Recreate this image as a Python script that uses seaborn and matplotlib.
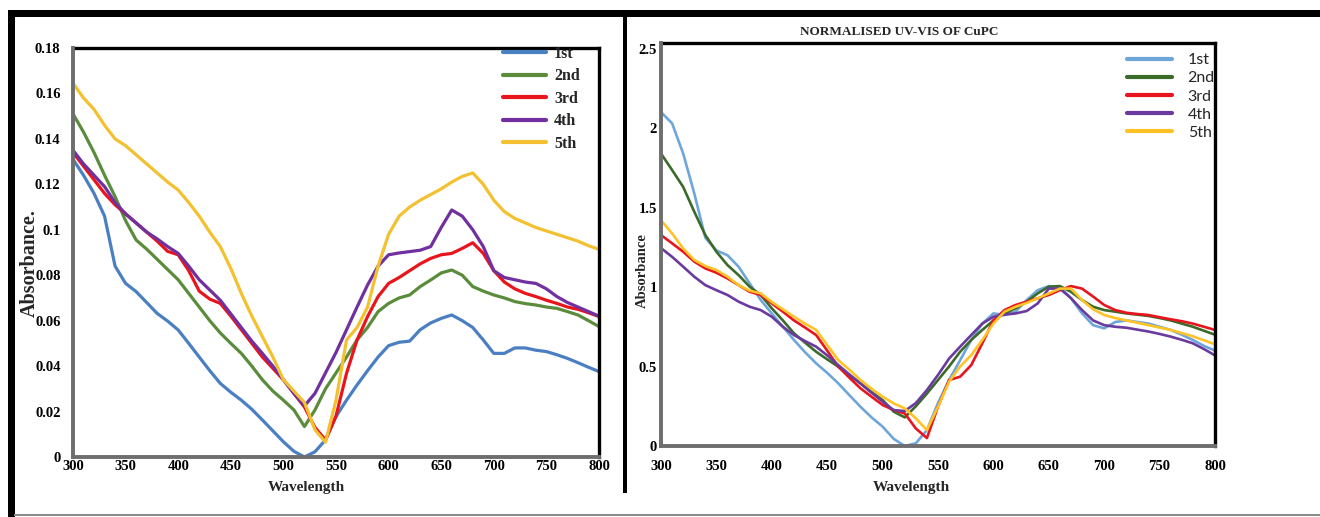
import matplotlib
matplotlib.use("Agg")
import matplotlib.pyplot as plt
import pandas as pd
import seaborn as sns
from matplotlib.patches import Rectangle

# ---------------- data ----------------
wavelength = list(range(300, 801, 10))
scans = ["1st", "2nd", "3rd", "4th", "5th"]

left_1st = [.131, .124, .116, .106, .084, .0764, .0728, .068, .0632, .0598,
            .0559, .050, .044, .038, .0324, .0285, .025, .021, .0163, .0115,
            .0067, .0025, .0, .0023, .0075, .0178, .025, .0317, .038, .044,
            .049, .0505, .051, .056, .059, .061, .0625, .060, .057, .0515,
            .0456, .0456, .048, .048, .047, .0464, .045, .0434, .0415, .0395,
            .0376]
left_2nd = [.151, .143, .134, .124, .1146, .104, .0955, .0915, .087, .0825,
            .078, .072, .066, .060, .0546, .050, .0456, .040, .034, .029,
            .025, .0207, .0134, .0207, .030, .037, .044, .0515, .057, .064,
            .0676, .070, .0713, .075, .0779, .081, .0823, .080, .075, .073,
            .0713, .070, .0684, .0675, .0669, .066, .0654, .064, .0625, .060,
            .0574]
left_3rd = [.134, .128, .122, .116, .111, .107, .103, .099, .095, .0905,
            .089, .082, .073, .0695, .0676, .062, .056, .050, .044, .039,
            .034, .028, .022, .013, .0075, .018, .0368, .0515, .0618, .0706,
            .0764, .079, .082, .085, .0874, .089, .0896, .0918, .0943, .0896,
            .082, .077, .074, .072, .0706, .069, .0676, .066, .065, .0635,
            .0618]
left_4th = [.135, .129, .124, .119, .112, .107, .103, .099, .096, .0926,
            .0896, .084, .078, .0735, .069, .063, .057, .051, .0456, .040,
            .034, .028, .0225, .028, .037, .046, .056, .066, .0757, .084,
            .089, .0898, .0904, .091, .0926, .101, .1087, .106, .100, .0926,
            .082, .079, .078, .077, .0764, .074, .0706, .068, .066, .064,
            .062]
left_5th = [.1645, .158, .153, .146, .140, .137, .133, .129, .125, .121,
            .1175, .112, .106, .099, .0926, .083, .072, .062, .053, .044,
            .034, .029, .024, .012, .0065, .025, .0515, .057, .066, .084,
            .098, .106, .110, .113, .1155, .118, .121, .1235, .125, .120,
            .113, .108, .105, .103, .101, .0995, .098, .0965, .095, .093,
            .0914]

right_1st = [2.10, 2.03, 1.84, 1.59, 1.31, 1.23, 1.20, 1.128, 1.023, 0.918,
             0.834, 0.75, 0.667, 0.59, 0.52, 0.46, 0.394, 0.32, 0.247, 0.18,
             0.122, 0.045, 0.0, 0.017, 0.10, 0.27, 0.415, 0.54, 0.667, 0.77,
             0.834, 0.824, 0.845, 0.918, 0.98, 1.006, 1.0, 0.93, 0.834, 0.76,
             0.74, 0.78, 0.79, 0.78, 0.77, 0.75, 0.73, 0.70, 0.667, 0.63,
             0.60]
right_2nd = [1.84, 1.736, 1.63, 1.474, 1.327, 1.222, 1.138, 1.075, 1.002, 0.95,
             0.866, 0.79, 0.709, 0.65, 0.593, 0.545, 0.499, 0.445, 0.394, 0.34,
             0.289, 0.216, 0.18, 0.25, 0.33, 0.415, 0.50, 0.593, 0.667, 0.73,
             0.79, 0.834, 0.866, 0.908, 0.96, 1.002, 1.006, 0.97, 0.918, 0.876,
             0.855, 0.845, 0.834, 0.826, 0.818, 0.805, 0.79, 0.77, 0.75, 0.725,
             0.70]
right_3rd = [1.327, 1.275, 1.222, 1.16, 1.117, 1.09, 1.054, 1.012, 0.97, 0.95,
             0.897, 0.845, 0.79, 0.745, 0.698, 0.60, 0.499, 0.43, 0.363, 0.31,
             0.258, 0.226, 0.205, 0.11, 0.05, 0.247, 0.415, 0.436, 0.509, 0.646,
             0.79, 0.855, 0.887, 0.908, 0.929, 0.95, 0.98, 1.006, 0.99, 0.94,
             0.887, 0.855, 0.838, 0.83, 0.824, 0.81, 0.797, 0.785, 0.77, 0.75,
             0.73]
right_4th = [1.245, 1.19, 1.128, 1.065, 1.012, 0.98, 0.95, 0.908, 0.876, 0.855,
             0.813, 0.75, 0.698, 0.66, 0.625, 0.57, 0.509, 0.45, 0.394, 0.335,
             0.279, 0.226, 0.22, 0.27, 0.352, 0.447, 0.55, 0.625, 0.698, 0.77,
             0.813, 0.826, 0.834, 0.849, 0.897, 0.99, 0.99, 0.93, 0.855, 0.79,
             0.76, 0.75, 0.744, 0.732, 0.72, 0.705, 0.688, 0.668, 0.646, 0.61,
             0.57]
right_5th = [1.42, 1.337, 1.243, 1.17, 1.132, 1.107, 1.065, 1.012, 0.977, 0.96,
             0.906, 0.86, 0.813, 0.77, 0.73, 0.635, 0.54, 0.48, 0.415, 0.36,
             0.31, 0.268, 0.237, 0.174, 0.10, 0.247, 0.405, 0.50, 0.572, 0.667,
             0.77, 0.845, 0.876, 0.90, 0.929, 0.96, 0.99, 0.99, 0.918, 0.86,
             0.824, 0.805, 0.79, 0.775, 0.76, 0.745, 0.73, 0.71, 0.69, 0.665,
             0.64]

x_ticks = list(range(300, 801, 50))
left_yticks = [0, 0.02, 0.04, 0.06, 0.08, 0.1, 0.12, 0.14, 0.16, 0.18]
left_ylabels = ["0", "0.02", "0.04", "0.06", "0.08", "0.1", "0.12", "0.14", "0.16", "0.18"]
right_yticks = [0, 0.5, 1, 1.5, 2, 2.5]
right_ylabels = ["0", "0.5", "1", "1.5", "2", "2.5"]

left_colors = ["#4a7fc1", "#5a8c3c", "#e8161c", "#7030a0", "#f3c130"]
right_colors = ["#6fa6da", "#3b6a2b", "#e8141e", "#6a3a9e", "#ffc325"]


def long_df(series):
    rows = []
    for name, vals in zip(scans, series):
        for w, v in zip(wavelength, vals):
            rows.append({"Wavelength": w, "Absorbance": v, "Scan": name})
    return pd.DataFrame(rows)


dfL = long_df([left_1st, left_2nd, left_3rd, left_4th, left_5th])
dfR = long_df([right_1st, right_2nd, right_3rd, right_4th, right_5th])

# ---------------- style ----------------
sns.set_theme(style="white")
plt.rcParams["font.family"] = ["Liberation Serif", "DejaVu Serif"]

W, H = 1320, 517
fig = plt.figure(figsize=(W / 100, H / 100), dpi=100)
fig.patch.set_facecolor("white")


def fx(px):
    return px / W


def fy(py):
    return 1 - py / H


axL = fig.add_axes([fx(73), fy(457), fx(599) - fx(73), fy(48) - fy(457)])
axR = fig.add_axes([fx(661), fy(446), fx(1215) - fx(661), fy(43) - fy(446)])

sns.lineplot(data=dfL, x="Wavelength", y="Absorbance", hue="Scan", hue_order=scans,
             palette=left_colors, linewidth=2.3, legend=False, estimator=None, ax=axL)
sns.lineplot(data=dfR, x="Wavelength", y="Absorbance", hue="Scan", hue_order=scans,
             palette=right_colors, linewidth=1.9, legend=False, estimator=None, ax=axR)

tick_font = dict(family="Liberation Serif", weight="bold", size=10.5)

for ax, yt, yl, ylim in [(axL, left_yticks, left_ylabels, (0, 0.18)),
                         (axR, right_yticks, right_ylabels, (0, 2.535))]:
    ax.set_xlim(300, 800)
    ax.set_ylim(*ylim)
    ax.set_xticks(x_ticks)
    ax.set_xticklabels([str(t) for t in x_ticks], fontdict=tick_font)
    ax.set_yticks(yt)
    ax.set_yticklabels(yl, fontdict=tick_font)
    ax.set_xlabel("")
    ax.set_ylabel("")
    ax.grid(False)
    ax.set_facecolor("white")
    ax.tick_params(length=0, colors="black")
    for s in ["top", "right"]:
        ax.spines[s].set_color("black")
        ax.spines[s].set_linewidth(2.4)
    for s in ["left", "bottom"]:
        ax.spines[s].set_color("#6e6e6e")
        ax.spines[s].set_linewidth(2.8)
    ax.spines["left"].set_zorder(3)

axL.tick_params(axis="y", pad=9)
axL.tick_params(axis="x", pad=2)
axR.tick_params(axis="y", pad=3)
axR.tick_params(axis="x", pad=10)

# legends
legL = axL.legend(handles=axL.lines[:5], labels=scans, loc="upper left",
                  bbox_to_anchor=((503 - 73) / 526, (457 - 46) / 409),
                  frameon=False, borderpad=0, borderaxespad=0,
                  handlelength=2.7, handletextpad=0.5, labelspacing=0.4,
                  prop=dict(family="Liberation Serif", weight="bold", size=11.5))
for h in legL.get_lines():
    h.set_linewidth(3.0)

legR = axR.legend(handles=axR.lines[:5], labels=scans, loc="upper left",
                  bbox_to_anchor=((1127 - 661) / 554, (446 - 53) / 403),
                  frameon=False, borderpad=0, borderaxespad=0,
                  handlelength=2.8, handletextpad=1.0, labelspacing=0.25,
                  prop=dict(family="Lato", size=11.5))
for h in legR.get_lines():
    h.set_linewidth(3.0)

# axis labels and title
fig.text(fx(30), fy(263), "Absorbance.", rotation=90, ha="center", va="center",
         fontsize=14.5, fontweight="bold", family="Liberation Serif")
fig.text(fx(306), fy(487), "Wavelength", ha="center", va="center",
         fontsize=11, fontweight="bold", family="Liberation Serif")
fig.text(fx(642), fy(271), "Absorbance", rotation=90, ha="center", va="center",
         fontsize=10.5, fontweight="bold", family="Liberation Serif")
fig.text(fx(911), fy(488), "Wavelength", ha="center", va="center",
         fontsize=11, fontweight="bold", family="Liberation Serif")
fig.text(fx(899), fy(32), "NORMALISED UV-VIS OF CuPC", ha="center", va="center",
         fontsize=9.5, fontweight="bold", family="Liberation Serif")

# frame decorations (black border bars and separator)
def rect(x0, y0, x1, y1, color):
    fig.add_artist(Rectangle((fx(x0), fy(y1)), fx(x1) - fx(x0), fy(y0) - fy(y1),
                             transform=fig.transFigure, facecolor=color,
                             edgecolor="none", zorder=10))

rect(8, 10, W, 17, "black")
rect(8, 10, 15, H, "black")
rect(623, 10, 627, 493, "black")
rect(14, 514, W, 516, "#8a8a8a")

fig.savefig("out.png", dpi=100, facecolor="white")
